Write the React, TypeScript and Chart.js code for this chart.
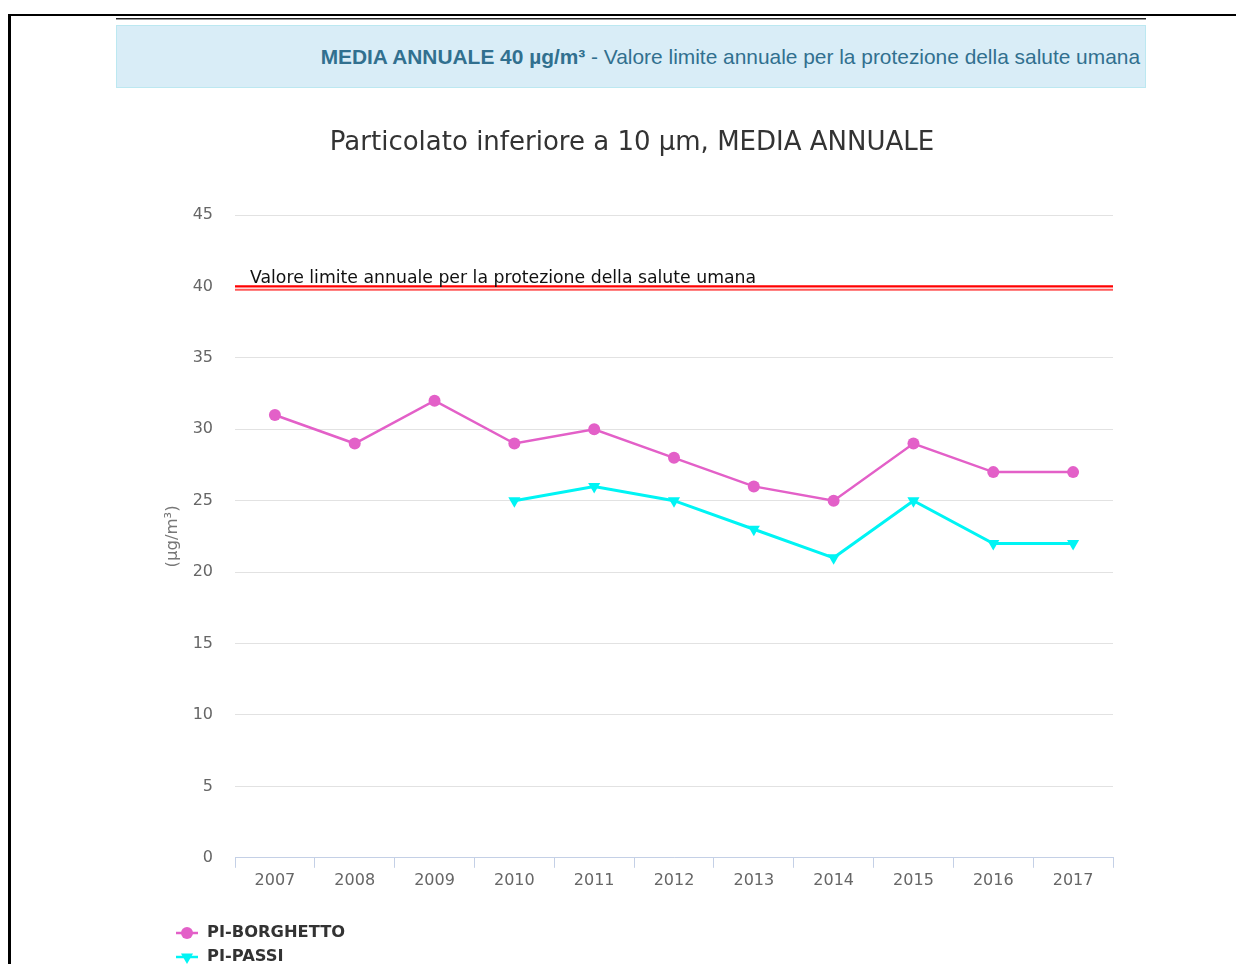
import React, { useEffect, useRef } from 'react';
import { Chart, registerables } from 'chart.js';

Chart.register(...registerables);

const years = ['2007', '2008', '2009', '2010', '2011', '2012', '2013', '2014', '2015', '2016', '2017'];
const borghetto = [31, 29, 32, 29, 30, 28, 26, 25, 29, 27, 27];
const passi = [null, null, null, 25, 26, 25, 23, 21, 25, 22, 22];
const seriesNames = ['PI-BORGHETTO', 'PI-PASSI'];
const limitValue = 40;
const limitLabel = 'Valore limite annuale per la protezione della salute umana';
const chartTitle = 'Particolato inferiore a 10 µm, MEDIA ANNUALE';
const yTitle = '(µg/m³)';
const bannerBold = 'MEDIA ANNUALE 40 µg/m³';
const bannerText = ' - Valore limite annuale per la protezione della salute umana';

const PINK = '#e360c8';
const CYAN = '#00f4f4';
const FONT = "'DejaVu Sans', sans-serif";

export default function App() {
  const ref = useRef<HTMLCanvasElement>(null);

  useEffect(() => {
    if (!ref.current) return;

    const limitPlugin = {
      id: 'limitLine',
      beforeDatasetsDraw(chart: any) {
        const { ctx, chartArea, scales } = chart;
        const y = scales.y.getPixelForValue(limitValue);
        ctx.save();
        ctx.strokeStyle = '#ff0000';
        ctx.lineWidth = 2.2;
        ctx.beginPath();
        ctx.moveTo(chartArea.left, y);
        ctx.lineTo(chartArea.right, y);
        ctx.stroke();
        ctx.strokeStyle = '#ff5a5a';
        ctx.lineWidth = 2;
        ctx.beginPath();
        ctx.moveTo(chartArea.left, y + 3.4);
        ctx.lineTo(chartArea.right, y + 3.4);
        ctx.stroke();
        ctx.fillStyle = '#111';
        ctx.font = `17.3px ${FONT}`;
        ctx.textAlign = 'left';
        ctx.textBaseline = 'alphabetic';
        ctx.fillText(limitLabel, chartArea.left + 15, y - 3.5);
        ctx.restore();
      },
    };

    const legendPlugin = {
      id: 'stackedLegend',
      afterDraw(chart: any) {
        const { ctx } = chart;
        ctx.save();
        chart.data.datasets.forEach((ds: any, i: number) => {
          const cy = 838 + i * 24;
          ctx.strokeStyle = ds.borderColor;
          ctx.fillStyle = ds.borderColor;
          ctx.lineWidth = 2.5;
          ctx.beginPath();
          ctx.moveTo(60, cy);
          ctx.lineTo(82, cy);
          ctx.stroke();
          ctx.beginPath();
          if (ds.pointStyle === 'triangle') {
            const r = 7;
            ctx.moveTo(71 - r * 0.866, cy - r * 0.5);
            ctx.lineTo(71 + r * 0.866, cy - r * 0.5);
            ctx.lineTo(71, cy + r);
            ctx.closePath();
          } else {
            ctx.arc(71, cy, 6, 0, Math.PI * 2);
          }
          ctx.fill();
          ctx.fillStyle = '#333';
          ctx.font = `bold 16.3px ${FONT}`;
          ctx.textAlign = 'left';
          ctx.textBaseline = 'middle';
          ctx.fillText(ds.label, 91, cy);
        });
        ctx.restore();
      },
    };

    const chart = new Chart(ref.current, {
      type: 'line',
      data: {
        labels: years,
        datasets: [
          {
            label: seriesNames[0],
            data: borghetto,
            borderColor: PINK,
            backgroundColor: PINK,
            borderWidth: 2.5,
            pointStyle: 'circle',
            pointRadius: 6,
            pointBorderWidth: 0,
            pointBackgroundColor: PINK,
          },
          {
            label: seriesNames[1],
            data: passi,
            borderColor: CYAN,
            backgroundColor: CYAN,
            borderWidth: 3,
            pointStyle: 'triangle',
            rotation: 180,
            pointRadius: 7,
            pointBorderWidth: 0,
            pointBackgroundColor: CYAN,
          },
        ],
      },
      options: {
        responsive: false,
        animation: false,
        devicePixelRatio: 1,
        layout: { padding: { left: 35, right: 33, top: 0, bottom: 71 } },
        plugins: {
          legend: { display: false },
          tooltip: { enabled: false },
          title: {
            display: true,
            text: chartTitle,
            color: '#333',
            font: { family: FONT, size: 26, weight: 'normal' },
            padding: { top: 33, bottom: 55.8 },
          },
        },
        scales: {
          x: {
            type: 'category',
            offset: true,
            grid: {
              offset: true,
              drawOnChartArea: false,
              drawTicks: true,
              tickLength: 10,
              color: '#c4d0e6',
              lineWidth: 1,
            },
            border: { display: true, color: '#c4d0e6', width: 1 },
            ticks: {
              color: '#666',
              padding: 3,
              font: { family: FONT, size: 16 },
              maxRotation: 0,
              autoSkip: false,
            },
          },
          y: {
            min: 0,
            max: 45,
            afterFit(scale: any) {
              scale.width = 84;
            },
            ticks: {
              stepSize: 5,
              color: '#666',
              padding: 22,
              font: { family: FONT, size: 16 },
            },
            grid: { color: '#e2e2e2', lineWidth: 1, drawTicks: false },
            border: { display: false },
            title: {
              display: true,
              text: yTitle,
              color: '#777',
              font: { family: FONT, size: 16.5 },
              padding: { top: 12, bottom: 4 },
            },
          },
        },
      },
      plugins: [limitPlugin, legendPlugin],
    } as any);

    return () => chart.destroy();
  }, []);

  return (
    <div style={{ position: 'absolute', left: 0, top: 0, width: 1236, height: 964, overflow: 'hidden', background: '#fff' }}>
      <div
        style={{
          position: 'absolute',
          left: 8,
          top: 14,
          width: 1228,
          height: 950,
          boxSizing: 'border-box',
          borderTop: '2px solid #000',
          borderLeft: '3px solid #000',
        }}
      />
      <div
        style={{
          position: 'absolute',
          left: 116,
          top: 18,
          width: 1030,
          height: 2,
          boxSizing: 'border-box',
          borderTop: '1px solid #222',
          borderBottom: '1px solid #999',
        }}
      />
      <div
        style={{
          position: 'absolute',
          left: 116,
          top: 25,
          width: 1030,
          height: 63,
          boxSizing: 'border-box',
          background: '#d9edf7',
          border: '1px solid #bce8f1',
          color: '#31708f',
          fontFamily: "'Liberation Sans', Arial, sans-serif",
          fontSize: 20.9,
          lineHeight: '61px',
          textAlign: 'right',
          paddingRight: 5,
          whiteSpace: 'nowrap',
          overflow: 'hidden',
        }}
      >
        <b>{bannerBold}</b>
        {bannerText}
      </div>
      <canvas
        ref={ref}
        width={1030}
        height={869}
        style={{ position: 'absolute', left: 116, top: 95, width: 1030, height: 869 }}
      />
    </div>
  );
}
